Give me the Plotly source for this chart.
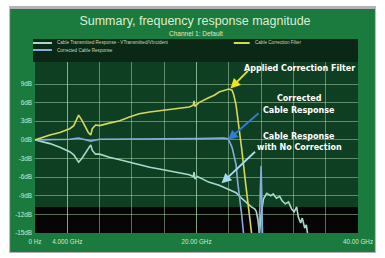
import plotly.graph_objects as go

# ---- data -------------------------------------------------------------
series_names = [
    "Cable Transmitted Response - VTransmitted/VIncident",
    "Cable Correction Filter",
    "Corrected Cable Response",
]

# Cable correction filter (GHz, dB)
freq_filter = [0, 0.86, 1.85, 3.08, 4.3, 4.8, 5.2, 5.4, 5.8, 6.3, 6.6, 6.9, 7.1, 7.5,
               8.0, 9.2, 10.5, 11.7, 12.9, 14.2, 15.4, 16.6, 17.8, 19.1, 19.6, 19.7,
               19.8, 20.3, 21.5, 22.2, 22.8, 23.4, 24.0, 24.4, 24.6, 24.9, 25.2, 25.6,
               26.1, 26.5, 26.7, 27.0]
db_filter = [0, 0.4, 0.8, 1.2, 1.8, 2.3, 3.3, 4.0, 3.2, 2.0, 1.2, 0.8, 1.8, 2.4,
             2.3, 2.7, 3.1, 3.7, 4.2, 4.5, 4.7, 4.8, 5.1, 5.3, 5.6, 6.3,
             5.4, 6.0, 6.8, 7.2, 7.7, 8.0, 8.2, 8.0, 7.3, 5.6, 2.8, -1.5,
             -7.2, -12.0, -14.6, -17.0]

# Transmitted response without correction (GHz, dB)
freq_raw = [0, 0.86, 1.85, 3.08, 4.3, 4.8, 5.2, 5.4, 5.8, 6.3, 6.6, 6.9, 7.1, 7.5,
            8.0, 9.2, 10.5, 11.7, 12.9, 14.2, 15.4, 16.6, 17.8, 19.1, 19.6, 19.7,
            19.8, 20.1, 20.9, 21.5, 22.8, 24.0, 24.9, 25.5, 26.1, 26.5, 26.8, 27.2,
            27.4, 27.6, 27.8, 28.0, 28.3, 28.7, 29.2, 29.5, 29.9, 30.3, 30.6, 31.0,
            31.4, 31.8, 32.1, 32.4, 32.6, 32.9, 33.1, 33.4, 33.6, 33.8]
db_raw = [0, -0.3, -0.6, -1.2, -1.9, -2.4, -3.1, -3.6, -3.0, -2.0, -1.2, -0.8, -1.7, -2.3,
          -2.3, -2.8, -3.2, -3.6, -4.0, -4.4, -4.7, -5.0, -5.3, -5.6, -5.9, -5.2,
          -6.3, -5.9, -6.4, -6.8, -7.3, -8.0, -8.5, -9.3, -10.0, -10.4, -10.8, -11.1,
          -11.5, -12.8, -15.2, -12.0, -9.5, -8.6, -9.0, -8.7, -9.4, -9.1, -9.8, -10.3,
          -10.0, -11.2, -11.6, -10.8, -12.4, -13.4, -12.6, -14.2, -13.7, -15.5]

# Response after correction (GHz, dB)
freq_corr = [0, 2.0, 4.3, 5.4, 6.9, 8.0, 12.0, 16.0, 20.3, 23.4, 23.9, 24.1, 24.4,
             24.6, 24.9, 25.1, 25.4, 25.6, 25.8, 26.1, 27.7, 28.0, 28.2]
db_corr = [0, 0.1, 0.1, 0.3, -0.2, 0.1, 0.1, 0.2, 0.2, 0.3, 0.2, -0.3, -1.2,
           -2.3, -4.0, -6.8, -9.5, -12.1, -14.8, -17.0, -17.0, -4.2, -16.5]

x_tick_vals = [0, 4, 20, 40]
x_tick_text = ["0 Hz", "4.000 GHz", "20.00 GHz", "40.00 GHz"]
y_tick_vals = [-15, -12, -9, -6, -3, 0, 3, 6, 9]
y_tick_text = ["-15dB", "-12dB", "-9dB", "-6dB", "-3dB", "0dB", "3dB", "6dB", "9dB"]

# ---- styling ----------------------------------------------------------
W, H = 385, 258
ML, MR, MT, MB = 35, 25, 62, 25
PW, PH = W - ML - MR, H - MT - MB

def px_x(px):
    return (px - ML) / PW

def px_y(py):
    return (H - MB - py) / PH

c_raw = "#a3dccb"
c_filter = "#d6d85c"
c_corr = "#86aedb"
panel = "#1b7a3e"
plot_bg = "#0f3f22"
legend_bg = "#0b2716"
grid = "rgba(175,215,175,0.5)"
label_col = "#d2ead0"

fig = go.Figure()
fig.add_trace(go.Scatter(x=freq_raw, y=db_raw, mode="lines", name=series_names[0],
                         line=dict(color=c_raw, width=1.6)))
fig.add_trace(go.Scatter(x=freq_corr, y=db_corr, mode="lines", name=series_names[2],
                         line=dict(color=c_corr, width=1.6)))
fig.add_trace(go.Scatter(x=freq_filter, y=db_filter, mode="lines", name=series_names[1],
                         line=dict(color=c_filter, width=1.6)))

shapes = [
    # soft shadow and green panel
    dict(type="rect", xref="paper", yref="paper", layer="below",
         x0=px_x(9), x1=px_x(378), y0=px_y(253), y1=px_y(6),
         fillcolor="#b4b0b4", line=dict(width=0)),
    dict(type="rect", xref="paper", yref="paper", layer="below",
         x0=px_x(10), x1=px_x(377), y0=px_y(252), y1=px_y(9),
         fillcolor=panel, line=dict(width=0)),
    # plotting area
    dict(type="rect", xref="paper", yref="paper", layer="below",
         x0=0, x1=1, y0=0, y1=1, fillcolor=plot_bg, line=dict(width=0)),
    # legend box
    dict(type="rect", xref="paper", yref="paper", layer="below",
         x0=px_x(33), x1=1, y0=1, y1=px_y(39), fillcolor=legend_bg, line=dict(width=0)),
    # black band at the floor of the range
    dict(type="rect", xref="paper", yref="y", layer="below",
         x0=0, x1=1, y0=-15, y1=-10.8, fillcolor="#070405", line=dict(width=0)),
]

# legend keys
legend_rows = [(33, 52, 43, c_raw, series_names[0]),
               (235, 251, 43, c_filter, series_names[1]),
               (33, 52, 50, c_corr, series_names[2])]
annotations = []
for x0, x1, yy, col, name in legend_rows:
    shapes.append(dict(type="line", xref="paper", yref="paper",
                       x0=px_x(x0), x1=px_x(x1), y0=px_y(yy), y1=px_y(yy),
                       line=dict(color=col, width=2)))
    annotations.append(dict(xref="paper", yref="paper", x=px_x(x1 + 3), y=px_y(yy),
                            xanchor="left", yanchor="middle", showarrow=False,
                            text=name, font=dict(size=4.6, color="#c8d8b0",
                                                 family="Liberation Sans")))

# subtitle
annotations.append(dict(xref="paper", yref="paper", x=px_x(197), y=px_y(33),
                        xanchor="center", yanchor="middle", showarrow=False,
                        text="Channel 1: Default",
                        font=dict(size=6.5, color="#e4e6b8", family="Liberation Sans")))

# callout text
callout_font = dict(size=8, color="white", family="DejaVu Sans")
for txt, yy in [("Applied Correction Filter", 68), ("Corrected", 98),
                ("Cable Response", 110), ("Cable Response", 136),
                ("with No Correction", 147)]:
    annotations.append(dict(xref="paper", yref="paper", x=px_x(301), y=px_y(yy),
                            xanchor="center", yanchor="middle", showarrow=False,
                            text="<b>" + txt + "</b>", font=callout_font))

# callout arrows pointing at the curves
annotations += [
    dict(x=24.2, y=8.3, xref="x", yref="y", ax=19, ay=-19, text="", showarrow=True,
         arrowhead=2, arrowsize=1.1, arrowwidth=1.8, arrowcolor="#f2e21a"),
    dict(x=23.9, y=0.0, xref="x", yref="y", ax=32, ay=-28, text="", showarrow=True,
         arrowhead=2, arrowsize=1.1, arrowwidth=1.8, arrowcolor="#2f7fd0"),
    dict(x=23.1, y=-7.0, xref="x", yref="y", ax=35, ay=-33, text="", showarrow=True,
         arrowhead=2, arrowsize=1.1, arrowwidth=1.8, arrowcolor="#a8dcf0"),
]

tick_font = dict(size=6.3, color=label_col, family="Liberation Sans")
fig.update_layout(
    width=W, height=H,
    margin=dict(l=ML, r=MR, t=MT, b=MB),
    paper_bgcolor="white",
    plot_bgcolor=plot_bg,
    showlegend=False,
    title=dict(text="Summary, frequency response magnitude",
               x=195 / W, xanchor="center",
               y=1 - 21 / H, yanchor="middle",
               font=dict(size=12.5, color="#dcefd2", family="Liberation Sans")),
    shapes=shapes,
    annotations=annotations,
    xaxis=dict(range=[0, 40], tickvals=x_tick_vals, ticktext=x_tick_text,
               showgrid=True, gridcolor=grid, gridwidth=1, zeroline=False,
               minor=dict(dtick=4, tick0=0, showgrid=True, gridcolor=grid, gridwidth=1),
               tickfont=tick_font, ticks="", ticklabelstandoff=4),
    yaxis=dict(range=[-15, 12.55], tickvals=y_tick_vals, ticktext=y_tick_text,
               showgrid=True, gridcolor=grid, gridwidth=1, zeroline=False,
               tickfont=tick_font, ticks="", ticklabelstandoff=2),
)

fig.write_html("out.html")
